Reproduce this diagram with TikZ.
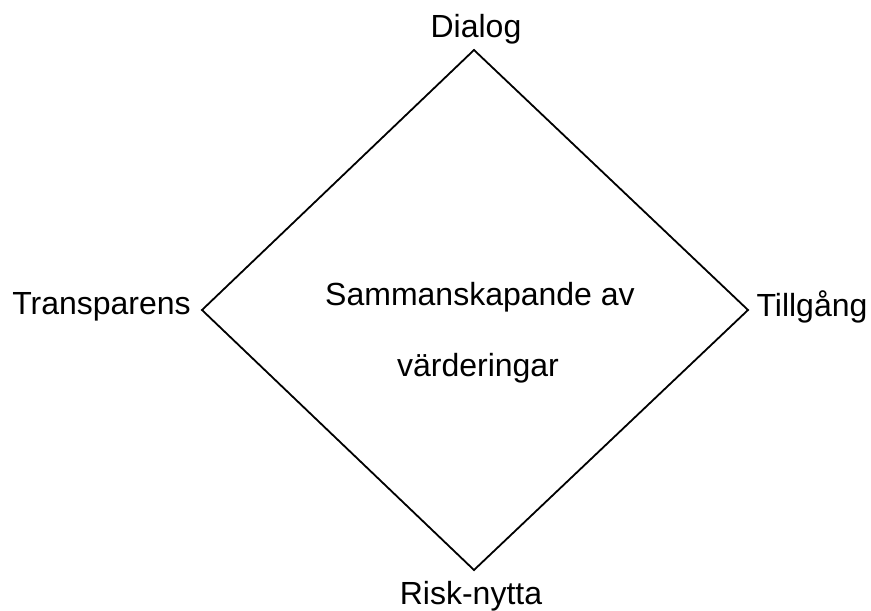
\documentclass[tikz,border=0pt]{standalone}
\usepackage{fontspec}
\setmainfont{Liberation Sans}
\begin{document}
\begin{tikzpicture}[x=1pt,y=-1pt,
  lbl/.style={anchor=base,inner sep=0pt,font=\fontsize{32}{38}\selectfont}]
\useasboundingbox (0,0) rectangle (871,611);
\coordinate (T) at (474,50);
\coordinate (L) at (202,310);
\coordinate (R) at (748,310);
\coordinate (B) at (474,570);
\draw[line width=1.8pt,line join=miter] (T) -- (R) -- (B) -- (L) -- cycle;
\node[lbl] (dialog) at (476,37) {Dialog};
\node[lbl] (transp) at (101.5,314) {Transparens};
\node[lbl] (till) at (812,316) {Tillgång};
\node[lbl] (risk) at (471,604) {Risk-nytta};
\node[lbl] (c1) at (480,305) {Sammanskapande av};
\node[lbl] (c2) at (478,376) {värderingar};
\end{tikzpicture}
\end{document}
